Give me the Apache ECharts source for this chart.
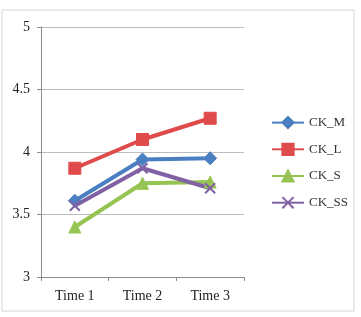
<!DOCTYPE html>
<html>
<head>
<meta charset="utf-8">
<script src="https://cdn.jsdelivr.net/npm/echarts@6/dist/echarts.min.js"></script>
<style>
  html, body { margin: 0; padding: 0; background: #fff; }
  #chart { width: 361px; height: 317px; }
</style>
</head>
<body>
<div id="chart"></div>
<script>
const categories = ['Time 1', 'Time 2', 'Time 3'];
const ckM = [3.61, 3.94, 3.95];
const ckL = [3.87, 4.10, 4.27];
const ckS = [3.40, 3.75, 3.76];
const ckSS = [3.57, 3.87, 3.71];
const yTicks = { min: 3, max: 5, interval: 0.5 };

const crossPath = 'path://M0,0 L10,10 M10,0 L0,10';

function makeSeries(name, data, color, symbol, size) {
  return {
    name: name,
    type: 'line',
    data: data,
    symbol: symbol,
    symbolSize: size,
    lineStyle: { color: color, width: 4 },
    itemStyle: { color: color, borderColor: color, borderWidth: symbol === crossPath ? 2 : 1 },
    emphasis: { disabled: true }
  };
}

const chart = echarts.init(document.getElementById('chart'));
chart.setOption({
  animation: false,
  textStyle: { fontFamily: 'Liberation Serif' },
  graphic: [{
    type: 'rect',
    shape: { x: 2, y: 10, width: 352, height: 301 },
    style: { fill: 'none', stroke: '#d6d6d6', lineWidth: 1 }
  }],
  grid: { left: 41, top: 27, width: 203, height: 250 },
  legend: {
    orient: 'vertical',
    left: 266,
    top: 111,
    itemGap: 13.5,
    itemWidth: 32,
    itemHeight: 14,
    textStyle: { fontSize: 13, color: '#333', fontFamily: 'Liberation Serif' },
    data: ['CK_M', 'CK_L', 'CK_S', 'CK_SS']
  },
  xAxis: {
    type: 'category',
    data: categories,
    boundaryGap: true,
    axisLine: { lineStyle: { color: '#8c8c8c' } },
    axisTick: { show: true, length: 4, lineStyle: { color: '#8c8c8c' } },
    axisLabel: { color: '#222', fontSize: 14, margin: 12 }
  },
  yAxis: {
    type: 'value',
    min: yTicks.min,
    max: yTicks.max,
    interval: yTicks.interval,
    axisLine: { show: true, lineStyle: { color: '#8c8c8c' } },
    axisTick: { show: true, length: 4, lineStyle: { color: '#8c8c8c' } },
    axisLabel: { color: '#222', fontSize: 14, margin: 11 },
    splitLine: { lineStyle: { color: '#bdbdbd' } }
  },
  series: [
    makeSeries('CK_M', ckM, '#4a7fc1', 'diamond', 13),
    makeSeries('CK_L', ckL, '#df4a4a', 'rect', 12),
    makeSeries('CK_S', ckS, '#96c453', 'triangle', 12),
    makeSeries('CK_SS', ckSS, '#8061a4', crossPath, 10)
  ]
});
</script>
</body>
</html>
